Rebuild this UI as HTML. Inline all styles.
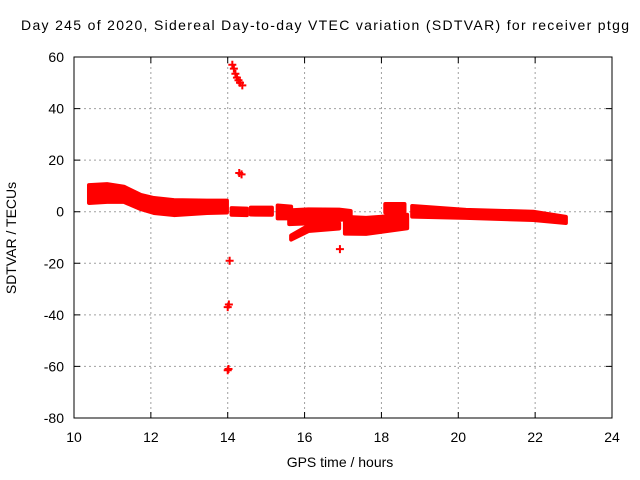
<!DOCTYPE html>
<html><head><meta charset="utf-8"><style>
html,body{margin:0;padding:0;background:#fff}
svg{display:block;font-family:"Liberation Sans",sans-serif}
</style></head><body>
<svg id="chart" width="640" height="480">
<text x="325" y="30" text-anchor="middle" font-size="14" textLength="608">Day 245 of 2020, Sidereal Day-to-day VTEC variation (SDTVAR) for receiver ptgg</text>
<text x="340" y="467" text-anchor="middle" font-size="14">GPS time / hours</text>
<text transform="translate(16,238) rotate(-90)" text-anchor="middle" font-size="14">SDTVAR / TECUs</text>
<g id="grid"></g><g id="marks"></g><g id="axes"></g>
</svg>
<script>
const xTicks=[10,12,14,16,18,20,22,24];
const yTicks=[60,40,20,0,-20,-40,-60,-80];
// bands: time, upper value, lower value
const band1T=[10.39,10.86,11.3,11.74,12.08,12.6,13.46,13.98];
const band1Hi=[10.3,10.7,9.7,6.5,5.3,4.5,4.3,4.3];
const band1Lo=[3.4,3.8,3.8,1.0,-0.5,-1.3,-0.5,-0.3];
const band2T=[14.1,14.5];const band2Hi=[1.4,1.2];const band2Lo=[-1.2,-1.3];
const band3T=[14.6,15.15];const band3Hi=[1.6,1.6];const band3Lo=[-1.1,-1.2];
const band4T=[15.3,15.65];const band4Hi=[2.4,2.0];const band4Lo=[-2.6,-2.6];
const band5T=[15.6,16.1,16.9,17.2];const band5Hi=[0.5,0.9,0.8,0.3];const band5Lo=[-4.8,-4.5,-3.2,-2.6];
const band6T=[15.65,16.1,16.9];const band6Hi=[-9.2,-5.4,-4.5];const band6Lo=[-10.8,-7.5,-6.5];
const band7T=[17.05,17.6,18.67];const band7Hi=[-2.0,-2.4,-1.2];const band7Lo=[-8.5,-8.6,-6.4];
const band8T=[18.1,18.6];const band8Hi=[3.0,3.0];const band8Lo=[-0.3,-0.3];
const band9T=[18.8,20.2,21.95,22.8];const band9Hi=[2.2,0.7,0.0,-2.0];const band9Lo=[-1.9,-2.4,-3.2,-4.4];
// isolated points
const ptT=[14.12,14.16,14.2,14.24,14.28,14.32,14.38,14.3,14.36,14.05,14.03,14.0,14.02,14.0,16.92];
const ptV=[57,55.5,53.5,52,51,50,49,15,14.5,-19,-36,-37,-61,-61.5,-14.5];
const bands=[[band1T,band1Hi,band1Lo],[band2T,band2Hi,band2Lo],[band3T,band3Hi,band3Lo],[band4T,band4Hi,band4Lo],[band5T,band5Hi,band5Lo],[band6T,band6Hi,band6Lo],[band7T,band7Hi,band7Lo],[band8T,band8Hi,band8Lo],[band9T,band9Hi,band9Lo]];
const X0=74,X1=612,Y0=57,Y1=418;
const sx=t=>X0+(t-10)/(24-10)*(X1-X0);
const sy=v=>Y0+(60-v)/(140)*(Y1-Y0);
const NS="http://www.w3.org/2000/svg";
function mk(tag,attrs,parent){const e=document.createElementNS(NS,tag);for(const k in attrs)e.setAttribute(k,attrs[k]);parent.appendChild(e);return e;}
const grid=document.getElementById('grid'),marks=document.getElementById('marks'),axes=document.getElementById('axes');
xTicks.forEach(t=>{
 if(t>10&&t<24){const l=mk('line',{x1:sx(t),x2:sx(t),y1:Y0,y2:Y1,stroke:'#a0a0a0','stroke-dasharray':'2,3'},grid);
 }
 const tk=mk('path',{d:`M${sx(t)},${Y1}v-6M${sx(t)},${Y0}v6`,stroke:'#000'},axes);
 
 const tx=mk('text',{x:sx(t),y:Y1+24,'text-anchor':'middle','font-size':14},axes);tx.textContent=t;
 
});
yTicks.forEach(v=>{
 if(v<60&&v>-80){const l=mk('line',{x1:X0,x2:X1,y1:sy(v),y2:sy(v),stroke:'#a0a0a0','stroke-dasharray':'2,3'},grid);
 }
 const tk=mk('path',{d:`M${X0},${sy(v)}h6M${X1},${sy(v)}h-6`,stroke:'#000'},axes);
 
 const tx=mk('text',{x:X0-10,y:sy(v)+5,'text-anchor':'end','font-size':14},axes);tx.textContent=v;
 
});
const fr=mk('rect',{x:X0,y:Y0,width:X1-X0,height:Y1-Y0,fill:'none',stroke:'#000'},axes);

bands.forEach(([T,H,L])=>{
 let d='M'+T.map((t,i)=>sx(t)+','+sy(H[i])).join('L');
 d+='L'+T.map((t,i)=>sx(t)+','+sy(L[i])).reverse().join('L')+'Z';
 const p=mk('path',{d:d,fill:'#f00',stroke:'#f00','stroke-width':4,'stroke-linejoin':'round'},marks);
 
});
ptT.forEach((t,i)=>{
 const x=sx(t),y=sy(ptV[i]);
 const p=mk('path',{d:`M${x-4},${y}h8M${x},${y-4}v8`,stroke:'#f00','stroke-width':2},marks);
 
});
</script>
</body></html>
